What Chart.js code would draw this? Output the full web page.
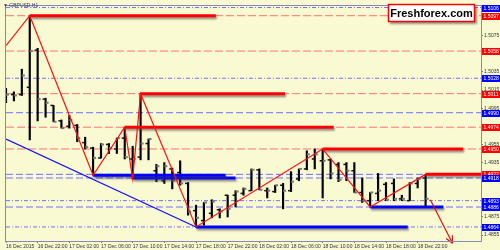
<!DOCTYPE html>
<html>
<head>
<meta charset="utf-8">
<script src="https://cdn.jsdelivr.net/npm/chart.js@4.4.1/dist/chart.umd.min.js"></script>
<style>
  html, body { margin: 0; padding: 0; background: #f9f9d2; }
  #wrap { width: 500px; height: 250px; }
</style>
</head>
<body>
<div id="wrap"><canvas id="chart"></canvas></div>
<script>
// GBPUSD H1 - one bar per hour, hour 0 = 16 Dec 2015 18:00
const opens = [1.5011, 1.5010, 1.5010, 1.5018, 1.5059, 1.5005, 1.4998, 1.4981, 1.4975, 1.4976,
  1.4957, 1.4951, 1.4940, 1.4955, 1.4950, 1.4962, 1.4939, 1.4941, 1.4956, 1.4926,
  1.4915, 1.4928, 1.4924, 1.4912, 1.4882, 1.4871, 1.4879, 1.4883, 1.4899, 1.4899,
  1.4901, 1.4904, 1.4927, 1.4904, 1.4903, 1.4910, 1.4904, 1.4917, 1.4928, 1.4939,
  1.4937, 1.4938, 1.4933, 1.4933, 1.4926, 1.4902, 1.4893, 1.4901, 1.4911, 1.4912,
  1.4895, 1.4893, 1.4912, 1.4918];
const highs = [1.5017, 1.5013, 1.5038, 1.5097, 1.5061, 1.5006, 1.4998, 1.4982, 1.4987, 1.4977,
  1.4963, 1.4952, 1.4956, 1.4956, 1.4962, 1.4974, 1.4953, 1.5011, 1.4961, 1.4933,
  1.4935, 1.4929, 1.4937, 1.4913, 1.4888, 1.4891, 1.4894, 1.4884, 1.4899, 1.4904,
  1.4907, 1.4928, 1.4928, 1.4907, 1.4910, 1.4912, 1.4925, 1.4928, 1.4948, 1.4950,
  1.4950, 1.4939, 1.4935, 1.4935, 1.4935, 1.4918, 1.4902, 1.4923, 1.4913, 1.4917,
  1.4899, 1.4913, 1.4918, 1.4922];
const lows = [1.5001, 1.5003, 1.5009, 1.4960, 1.4981, 1.4985, 1.4980, 1.4973, 1.4973, 1.4958,
  1.4950, 1.4921, 1.4940, 1.4945, 1.4945, 1.4939, 1.4917, 1.4938, 1.4938, 1.4914,
  1.4912, 1.4906, 1.4910, 1.4877, 1.4864, 1.4866, 1.4874, 1.4874, 1.4875, 1.4886,
  1.4899, 1.4904, 1.4905, 1.4896, 1.4902, 1.4884, 1.4903, 1.4915, 1.4927, 1.4928,
  1.4896, 1.4917, 1.4914, 1.4915, 1.4902, 1.4891, 1.4886, 1.4893, 1.4893, 1.4893,
  1.4893, 1.4893, 1.4907, 1.4886];
const closes = [1.5010, 1.5009, 1.5031, 1.5058, 1.5005, 1.5001, 1.4980, 1.4973, 1.4982, 1.4962,
  1.4952, 1.4940, 1.4955, 1.4951, 1.4962, 1.4941, 1.4939, 1.4956, 1.4961, 1.4931,
  1.4931, 1.4915, 1.4912, 1.4881, 1.4874, 1.4891, 1.4892, 1.4881, 1.4884, 1.4903,
  1.4906, 1.4927, 1.4905, 1.4904, 1.4910, 1.4904, 1.4914, 1.4928, 1.4944, 1.4944,
  1.4937, 1.4923, 1.4916, 1.4926, 1.4902, 1.4893, 1.4902, 1.4904, 1.4894, 1.4895,
  1.4895, 1.4912, 1.4917, 1.4895];

// x axis labels (every 4 hours)
const xTickHours = [0, 4, 8, 12, 16, 20, 24, 28, 32, 36, 40, 44, 48, 52];
const xTickLabels = ['16 Dec 2015', '16 Dec 22:00', '17 Dec 02:00', '17 Dec 06:00', '17 Dec 10:00',
  '17 Dec 14:00', '17 Dec 18:00', '17 Dec 22:00', '18 Dec 02:00', '18 Dec 06:00', '18 Dec 10:00',
  '18 Dec 14:00', '18 Dec 18:00', '18 Dec 22:00'];
// plain price ticks on the right axis
const yTickValues = [1.5075, 1.5035, 1.5015, 1.4995, 1.4955, 1.4935, 1.4875, 1.4855];

// horizontal levels across the whole chart
const levelPrices = [1.5106, 1.5097, 1.5058, 1.5028, 1.5011, 1.4990, 1.4974, 1.4950, 1.4922, 1.4918, 1.4893, 1.4886, 1.4864];
const levelKinds = ['dashdot', 'red', 'red', 'dashdot', 'red', 'dash', 'red', 'red', 'dash', 'dash', 'dashdot', 'dash', 'dashdot'];
const levelLabelRed = [false, true, true, false, true, false, true, true, true, false, false, false, false];

// thick support / resistance segments
const thickPrices = [1.5097, 1.5011, 1.4974, 1.4950, 1.4922, 1.4921, 1.4918, 1.4886, 1.4864];
const thickFrom = [3, 17, 15, 40, 53, 11, 16, 46, 24];
const thickTo = [26.5, 35.25, 41.4, 57.75, 60, 27.75, 29, 55.25, 50.75];
const thickRed = [true, true, true, true, true, false, false, false, false];

// zigzag, trend line and forecast arrow
const zigHours = [0, 3, 11, 15, 16, 17, 24, 40, 46, 53];
const zigPrices = [1.5064, 1.5097, 1.4921, 1.4974, 1.4917, 1.5011, 1.4864, 1.4950, 1.4886, 1.4922];
const trendHours = [0, 24];
const trendPrices = [1.4961, 1.4864];
const arrowHours = [53.6, 56.4];
const arrowPrices = [1.4894, 1.4846];

const FONT = 'Liberation Sans, Arial, sans-serif';
const BG = '#f9f9d2';

const datasets = [];

levelPrices.forEach((p, i) => {
  const kind = levelKinds[i];
  datasets.push({
    type: 'line',
    data: [{ x: 0, y: p }, { x: 60, y: p }],
    borderColor: kind === 'red' ? '#ff7272' : '#7070ff',
    borderWidth: 1,
    borderDash: kind === 'red' ? [8, 3] : (kind === 'dash' ? [7, 3] : [4, 2, 1, 2]),
    pointRadius: 0,
    order: 10
  });
});

datasets.push({
  type: 'bar',
  data: highs.map((h, i) => ({ x: i, y: [lows[i], h] })),
  backgroundColor: '#000',
  barThickness: 1.5,
  grouped: false,
  order: 6
});
datasets.push({
  type: 'scatter',
  data: opens.map((o, i) => ({ x: i, y: o })),
  pointStyle: 'dash',
  rotation: 180,
  pointRadius: 3,
  borderWidth: 1.5,
  borderColor: '#111',
  order: 5
});
datasets.push({
  type: 'scatter',
  data: closes.map((c, i) => ({ x: i, y: c })),
  pointStyle: 'dash',
  pointRadius: 3,
  borderWidth: 2,
  borderColor: '#777',
  order: 5
});

thickPrices.forEach((p, i) => {
  datasets.push({
    type: 'line',
    data: [{ x: thickFrom[i], y: p }, { x: thickTo[i], y: p }],
    borderColor: thickRed[i] ? '#ff0000' : '#0000ff',
    borderWidth: 3,
    pointRadius: 0,
    shadow: true,
    order: 3
  });
});

datasets.push({
  type: 'line',
  data: trendHours.map((h, i) => ({ x: h, y: trendPrices[i] })),
  borderColor: '#1010ff',
  borderWidth: 1.2,
  pointRadius: 0,
  order: 2
});
datasets.push({
  type: 'line',
  data: zigHours.map((h, i) => ({ x: h, y: zigPrices[i] })),
  borderColor: '#ff1010',
  borderWidth: 1.2,
  pointRadius: 0,
  tension: 0,
  order: 1
});
datasets.push({
  type: 'line',
  data: arrowHours.map((h, i) => ({ x: h, y: arrowPrices[i] })),
  borderColor: '#e01010',
  borderWidth: 1.2,
  pointRadius: 0,
  clip: false,
  arrow: true,
  order: 0
});

// --- PLUGINS ---
const bgPlugin = {
  id: 'bg',
  beforeDraw(chart) {
    const c = chart.ctx;
    c.save();
    c.fillStyle = BG;
    c.fillRect(0, 0, chart.width, chart.height);
    c.restore();
  }
};

const shadowPlugin = {
  id: 'shadow',
  beforeDatasetDraw(chart, args) {
    if (chart.data.datasets[args.index].shadow) {
      const c = chart.ctx;
      c.save();
      c.shadowColor = 'rgba(60,60,60,0.55)';
      c.shadowOffsetY = 2;
      c.shadowOffsetX = 1;
      c.shadowBlur = 2;
    }
  },
  afterDatasetDraw(chart, args) {
    const ds = chart.data.datasets[args.index];
    if (ds.shadow) chart.ctx.restore();
    if (ds.arrow) {
      // arrow head at the last point
      const pts = args.meta.data;
      const a = pts[pts.length - 2], b = pts[pts.length - 1];
      const ang = Math.atan2(b.y - a.y, b.x - a.x);
      const c = chart.ctx;
      c.save();
      c.strokeStyle = ds.borderColor;
      c.lineWidth = 1.2;
      c.beginPath();
      [0.45, -0.45].forEach(d => {
        c.moveTo(b.x, b.y);
        c.lineTo(b.x - 8 * Math.cos(ang + d), b.y - 8 * Math.sin(ang + d));
      });
      c.stroke();
      c.restore();
    }
  }
};

const decorPlugin = {
  id: 'decor',
  afterDraw(chart) {
    const c = chart.ctx;
    const area = chart.chartArea;
    const y = chart.scales.y;
    c.save();

    // frame
    c.strokeStyle = '#8a8ab0';
    c.lineWidth = 1;
    c.strokeRect(Math.round(area.left) - 0.5, Math.round(area.top) - 0.5,
      Math.round(area.right - area.left) + 1, Math.round(area.bottom - area.top) + 1);

    // level labels on the price axis
    c.font = '5px ' + FONT;
    c.textBaseline = 'middle';
    c.textAlign = 'left';
    levelPrices.forEach((p, i) => {
      const py = Math.round(y.getPixelForValue(p));
      c.fillStyle = levelLabelRed[i] ? '#ff0000' : '#0000ff';
      c.fillRect(area.right + 1, py - 3, 19, 7);
      c.fillStyle = '#fff';
      c.fillText(p.toFixed(4), area.right + 2.5, py + 0.5);
    });

    // symbol caption
    c.fillStyle = '#3a3a6a';
    c.font = '5px ' + FONT;
    c.textBaseline = 'top';
    c.fillText('\u25BC GBPUSD,H1', 3, 3);

    // site badge
    c.shadowColor = 'rgba(80,80,80,0.6)';
    c.shadowOffsetX = 2;
    c.shadowOffsetY = 2;
    c.shadowBlur = 2;
    c.fillStyle = '#fff';
    c.fillRect(388, 4, 87, 18);
    c.shadowColor = 'transparent';
    c.strokeStyle = '#ff0000';
    c.lineWidth = 1.5;
    c.strokeRect(388.5, 4.5, 86, 17);
    c.fillStyle = '#000';
    c.font = 'bold 11px ' + FONT;
    c.textAlign = 'center';
    c.textBaseline = 'middle';
    c.fillText('Freshforex.com', 431.5, 13.5);
    c.restore();
  }
};

new Chart(document.getElementById('chart'), {
  type: 'bar',
  data: { datasets: datasets },
  options: {
    responsive: true,
    maintainAspectRatio: false,
    animation: false,
    events: [],
    layout: { padding: { left: 1, top: 3, right: 0, bottom: 0 } },
    plugins: { legend: { display: false }, tooltip: { enabled: false } },
    scales: {
      x: {
        type: 'linear',
        min: 0,
        max: 60,
        offset: false,
        afterFit(s) { s.height = 9; },
        afterBuildTicks(s) { s.ticks = xTickHours.map(v => ({ value: v })); },
        ticks: {
          align: 'start',
          autoSkip: false,
          maxRotation: 0,
          padding: 1,
          color: '#333',
          font: { size: 5, family: FONT },
          callback: (v, i) => xTickLabels[i]
        },
        grid: { offset: false, drawOnChartArea: false, tickLength: 2, color: '#777' },
        border: { display: false }
      },
      y: {
        position: 'right',
        min: 1.48485,
        max: 1.51077,
        afterFit(s) { s.width = 19; },
        afterBuildTicks(s) { s.ticks = yTickValues.map(v => ({ value: v })); },
        ticks: {
          padding: 1,
          color: '#333',
          font: { size: 5, family: FONT },
          callback: v => v.toFixed(4)
        },
        grid: { drawOnChartArea: false, tickLength: 2, color: '#777' },
        border: { display: false }
      }
    }
  },
  plugins: [bgPlugin, shadowPlugin, decorPlugin]
});
</script>
</body>
</html>
